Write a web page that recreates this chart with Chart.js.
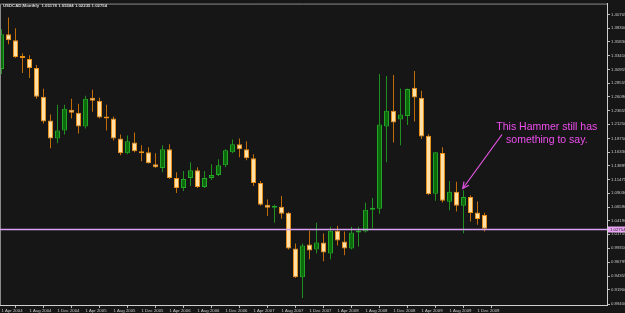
<!DOCTYPE html>
<html><head><meta charset="utf-8">
<script src="https://cdn.jsdelivr.net/npm/chart.js@4.4.1/dist/chart.umd.min.js"></script>
<style>html,body{margin:0;padding:0;background:#161616;overflow:hidden}#wrap{width:625px;height:313px;position:relative}</style>
</head><body><div id="wrap"><canvas id="c"></canvas></div>
<script>
const symbol = "USDCAD,Monthly";
const months = ["Apr 2004","May 2004","Jun 2004","Jul 2004","Aug 2004","Sep 2004","Oct 2004","Nov 2004","Dec 2004","Jan 2005",
"Feb 2005","Mar 2005","Apr 2005","May 2005","Jun 2005","Jul 2005","Aug 2005","Sep 2005","Oct 2005","Nov 2005",
"Dec 2005","Jan 2006","Feb 2006","Mar 2006","Apr 2006","May 2006","Jun 2006","Jul 2006","Aug 2006","Sep 2006",
"Oct 2006","Nov 2006","Dec 2006","Jan 2007","Feb 2007","Mar 2007","Apr 2007","May 2007","Jun 2007","Jul 2007",
"Aug 2007","Sep 2007","Oct 2007","Nov 2007","Dec 2007","Jan 2008","Feb 2008","Mar 2008","Apr 2008","May 2008",
"Jun 2008","Jul 2008","Aug 2008","Sep 2008","Oct 2008","Nov 2008","Dec 2008","Jan 2009","Feb 2009","Mar 2009",
"Apr 2009","May 2009","Jun 2009","Jul 2009","Aug 2009","Sep 2009","Oct 2009","Nov 2009","Dec 2009","Jan 2010"];
const opens = [1.3104,1.3719,1.3614,1.3333,1.3280,1.3122,1.2612,1.2191,1.1874,1.2015,
1.2384,1.2331,1.2085,1.2595,1.2542,1.2243,1.2226,1.1874,1.1611,1.1804,
1.1646,1.1629,1.1415,1.1348,1.1681,1.1172,1.0996,1.1172,1.1312,1.1014,
1.1172,1.1225,1.1400,1.1629,1.1769,1.1681,1.1523,1.1084,1.0697,1.0645,
1.0662,1.0557,0.9924,0.9415,0.9995,0.9907,1.0030,0.9837,1.0240,1.0047,
0.9924,1.0205,1.0223,1.0609,1.0627,1.2085,1.2366,1.2208,1.2273,1.2770,
1.2595,1.1922,1.0896,1.1617,1.0754,1.0929,1.0680,1.0838,1.0562,1.05178];
const highs = [1.3807,1.4018,1.3825,1.3385,1.3350,1.3175,1.2753,1.2296,1.2472,1.2472,
1.2577,1.2489,1.2630,1.2735,1.2595,1.2472,1.2261,1.1945,1.1927,1.1980,
1.1752,1.1720,1.1611,1.1752,1.1769,1.1277,1.1295,1.1453,1.1365,1.1295,
1.1418,1.1506,1.1681,1.1857,1.1874,1.1822,1.1593,1.1119,1.0790,1.0700,
1.0856,1.0570,1.0012,1.0012,1.0240,1.0381,1.0188,1.0311,1.0328,1.0223,
1.0311,1.0311,1.0733,1.0820,1.3016,1.2982,1.2999,1.2758,1.2758,1.3069,
1.2718,1.1950,1.1629,1.1716,1.1119,1.1107,1.0955,1.0867,1.0756,1.05584];
const lows = [1.3016,1.3543,1.3298,1.3034,1.2946,1.2577,1.2138,1.1699,1.1787,1.1945,
1.2226,1.1962,1.2050,1.2349,1.2226,1.2015,1.1839,1.1576,1.1593,1.1629,
1.1471,1.1430,1.1348,1.1277,1.1154,1.0908,1.0943,1.1031,1.0996,1.0996,
1.1137,1.1207,1.1365,1.1611,1.1541,1.1488,1.1031,1.0680,1.0500,1.0380,
1.0451,0.9907,0.9400,0.9046,0.9731,0.9837,0.9696,0.9731,0.9977,0.9802,
0.9907,0.9960,1.0205,1.0276,1.0539,1.1453,1.1804,1.1752,1.2114,1.2173,
1.1862,1.0873,1.0768,1.0738,1.0600,1.0580,1.0193,1.0404,1.0346,1.02235];
const closes = [1.3719,1.3614,1.3315,1.3298,1.3122,1.2612,1.2173,1.1874,1.2015,1.2402,
1.2331,1.2085,1.2577,1.2542,1.2243,1.2226,1.1874,1.1611,1.1822,1.1646,
1.1611,1.1435,1.1365,1.1681,1.1172,1.0996,1.1154,1.1312,1.1014,1.1172,
1.1225,1.1400,1.1664,1.1769,1.1681,1.1523,1.1084,1.0697,1.0645,1.0660,
1.0539,0.9924,0.9415,0.9977,0.9889,1.0030,0.9854,1.0240,1.0065,0.9924,
1.0205,1.0240,1.0609,1.0645,1.2120,1.2366,1.2156,1.2296,1.2748,1.2600,
1.1910,1.0885,1.1629,1.0768,1.0929,1.0680,1.0838,1.0551,1.0445,1.02754];
const yTickValues = [1.40705,1.38300,1.35830,1.33410,1.30955,1.28555,1.26090,1.23655,1.21250,1.18750,1.16330,
1.13895,1.11475,1.09030,1.06590,1.04190,1.01755,0.99310,0.96795,0.94355,0.91900,0.89400];
const xTickIndex = [0,4,8,12,16,20,24,28,32,36,40,44,48,52,56,60,64,68];
const noteLines = ["This Hammer still has","something to say."];
const hammerIndex = 66;

const up = closes.map((c,i)=>c>=opens[i]);
const last = closes.length-1;
const SMALL = "4.3px 'Liberation Sans', Arial, sans-serif";

const deco = {
  id:'deco',
  beforeDraw(ch){
    const c=ch.ctx; c.save(); c.fillStyle='#161616'; c.fillRect(0,0,ch.width,ch.height); c.restore();
  },
  afterDatasetsDraw(ch){
    const c=ch.ctx, a=ch.chartArea, xs=ch.scales.x, ys=ch.scales.y;
    c.save();
    // frame
    c.strokeStyle='#8a8a8a'; c.lineWidth=1;
    c.beginPath(); c.moveTo(a.left+0.5,a.bottom); c.lineTo(a.left+0.5,a.top+0.5); c.lineTo(a.right,a.top+0.5); c.stroke();
    // header
    c.fillStyle='#d8d8d8'; c.font="bold 4.3px 'Liberation Sans', Arial, sans-serif"; c.textBaseline='middle'; c.textAlign='left';
    c.fillText(symbol+'  '+[opens[last],highs[last],lows[last],closes[last]].map(v=>v.toFixed(5)).join(' '), 3, 5.5);
    // price line
    const py=Math.round(ys.getPixelForValue(closes[last]))+0.5;
    c.strokeStyle='#d9a2f2'; c.lineWidth=1.3;
    c.beginPath(); c.moveTo(a.left,py); c.lineTo(a.right,py); c.stroke();
    c.fillStyle='#eaa6f4'; c.fillRect(a.right+1,py-3,625-a.right-1,6);
    c.fillStyle='#202020'; c.font=SMALL; c.textAlign='left';
    c.fillText(closes[last].toFixed(5), a.right+3, py);
    // note
    const tx=xs.getPixelForValue(77.9), ty=ys.getPixelForValue(1.2068);
    c.fillStyle='#f04ef0'; c.font="10.5px 'Liberation Sans', Arial, sans-serif"; c.textAlign='center';
    noteLines.forEach((t,k)=>c.fillText(t,tx,ty+k*13));
    // arrow to hammer
    const x0=xs.getPixelForValue(71.5), y0=ys.getPixelForValue(1.1944);
    const x1=xs.getPixelForValue(hammerIndex-0.1), y1=ys.getPixelForValue(1.0987);
    c.strokeStyle='#e455e4'; c.lineWidth=1.2;
    c.beginPath(); c.moveTo(x0,y0); c.lineTo(x1,y1); c.stroke();
    const ang=Math.atan2(y1-y0,x1-x0), L=7;
    c.beginPath();
    c.moveTo(x1-L*Math.cos(ang-0.45), y1-L*Math.sin(ang-0.45));
    c.lineTo(x1,y1);
    c.lineTo(x1-L*Math.cos(ang+0.45), y1-L*Math.sin(ang+0.45));
    c.stroke();
    c.restore();
  }
};

new Chart(document.getElementById('c'),{
  type:'bar',
  data:{datasets:[
    {label:'wick', order:2, grouped:false, barThickness:1, borderWidth:0, inflateAmount:0,
     data:months.map((m,i)=>({x:i,y:[lows[i],highs[i]]})),
     backgroundColor:up.map(u=>u?'#1f8f1f':'#c06a08')},
    {label:'body', order:1, grouped:false, barThickness:5, borderWidth:1, borderSkipped:false, inflateAmount:0, minBarLength:2,
     data:months.map((m,i)=>({x:i,y:[opens[i],closes[i]]})),
     backgroundColor:up.map(u=>u?'#0b6a0b':'#ffe0a6'),
     borderColor:up.map(u=>u?'#25a525':'#e8901a')}
  ]},
  options:{
    responsive:true, maintainAspectRatio:false, animation:false,
    layout:{padding:{top:1,left:0,right:0,bottom:0}},
    plugins:{legend:{display:false},tooltip:{enabled:false}},
    scales:{
      x:{type:'linear', offset:false, min:-1.5/7, max:-1.5/7+607/7,
        afterBuildTicks:s=>{s.ticks=xTickIndex.map(v=>({value:v}));},
        afterFit:s=>{s.height=8;},
        ticks:{callback:v=>'1 '+months[v], align:'start', autoSkip:false, maxRotation:0, padding:0,
          color:'#c8c8c8', font:{size:4.3, family:"'Liberation Sans', Arial, sans-serif"}},
        grid:{drawOnChartArea:false, tickLength:3, tickColor:'#bcbcbc'},
        border:{display:true, color:'#cfcfcf', width:1}},
      y:{position:'right', min:0.89224, max:1.42637,
        afterBuildTicks:s=>{s.ticks=yTickValues.map(v=>({value:v}));},
        afterFit:s=>{s.width=18;},
        ticks:{callback:v=>Number(v).toFixed(5), autoSkip:false, padding:1,
          color:'#c8c8c8', font:{size:4.3, family:"'Liberation Sans', Arial, sans-serif"}},
        grid:{drawOnChartArea:false, tickLength:3, tickColor:'#bcbcbc'},
        border:{display:true, color:'#cfcfcf', width:1}}
    }
  },
  plugins:[deco]
});
</script>
</body></html>
